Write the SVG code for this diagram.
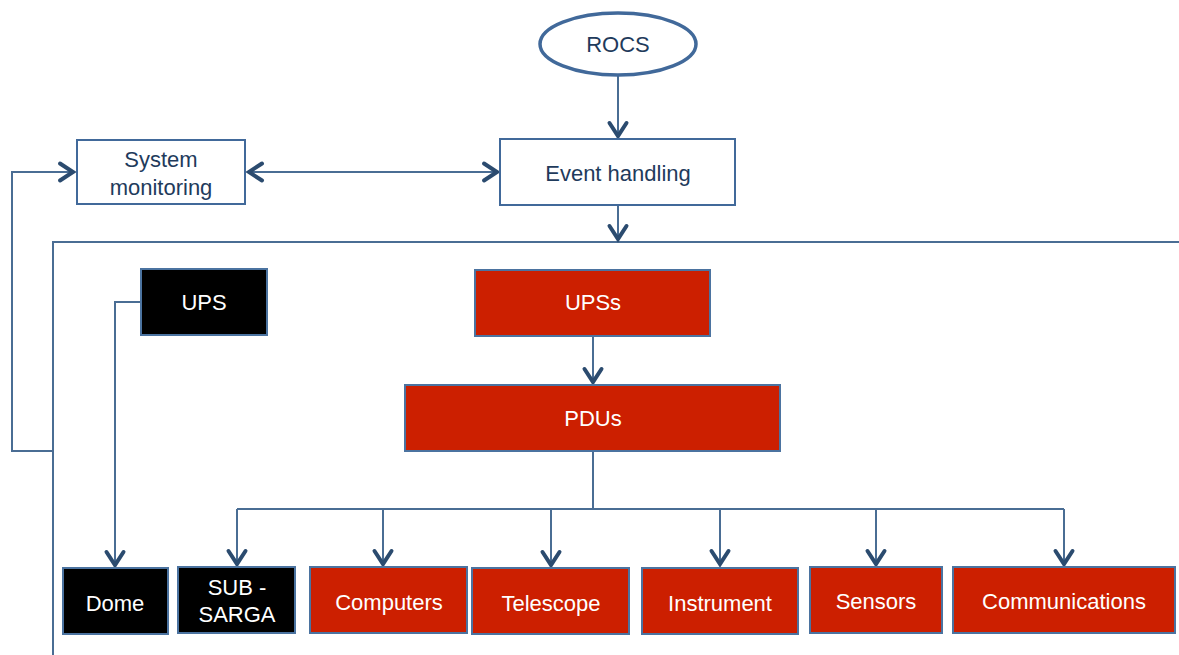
<svg xmlns="http://www.w3.org/2000/svg" width="1179" height="655" viewBox="0 0 1179 655">
  <style>
    .bg { fill: #ffffff; }
    .wire { fill: none; stroke: #4a6d94; stroke-width: 2; }
    .frame { fill: none; stroke: #4a6d94; stroke-width: 2; }
    .box-white { fill: #ffffff; stroke: #41699a; stroke-width: 2; }
    .box-red { fill: #cc1f00; stroke: #4b73a0; stroke-width: 2; }
    .box-black { fill: #000000; stroke: #4b73a0; stroke-width: 2; }
    .oval { fill: #ffffff; stroke: #41699a; stroke-width: 3.5; }
    .dark { font-family: "Liberation Sans", Arial, sans-serif; font-size: 22px; fill: #1f3b5c; text-anchor: middle; }
    .light { font-family: "Liberation Sans", Arial, sans-serif; font-size: 22px; fill: #ffffff; text-anchor: middle; }
  </style>
  <defs>
    <marker id="head" viewBox="-18 -12 22 24" markerWidth="22" markerHeight="24" refX="0" refY="0" orient="auto-start-reverse" markerUnits="userSpaceOnUse">
      <path d="M -15 -8.5 L -2 0 L -15 8.5" fill="none" stroke="#2b4b6f" stroke-width="4" stroke-linecap="round" stroke-linejoin="miter"/>
    </marker>
  </defs>

  <rect class="bg" x="0" y="0" width="1179" height="655"/>

  <!-- connectors -->
  <g id="connectors">
    <!-- power area outline -->
    <path class="frame" d="M 53 655 L 53 242 L 1179 242"/>
    <!-- ROCS to event handling -->
    <line class="wire" x1="618" y1="76" x2="618" y2="138" marker-end="url(#head)"/>
    <!-- event handling into power area -->
    <line class="wire" x1="618" y1="205" x2="618" y2="241" marker-end="url(#head)"/>
    <!-- monitoring <-> event handling -->
    <line class="wire" x1="247" y1="172" x2="499" y2="172" marker-start="url(#head)" marker-end="url(#head)"/>
    <!-- feedback loop from power area to monitoring -->
    <path class="wire" d="M 53 451 L 12 451 L 12 172 L 75 172" marker-end="url(#head)"/>
    <!-- UPS to dome -->
    <path class="wire" d="M 140 302 L 115 302 L 115 567" marker-end="url(#head)"/>
    <!-- UPSs to PDUs -->
    <line class="wire" x1="593" y1="337" x2="593" y2="384" marker-end="url(#head)"/>
    <!-- PDUs distribution bus -->
    <path class="wire" d="M 593 452 L 593 509"/>
    <line class="wire" x1="237" y1="509" x2="1064" y2="509"/>
    <path class="wire" d="M 237 509 L 237 566" marker-end="url(#head)"/>
    <path class="wire" d="M 383 509 L 383 566" marker-end="url(#head)"/>
    <path class="wire" d="M 551 509 L 551 567" marker-end="url(#head)"/>
    <path class="wire" d="M 720 509 L 720 566" marker-end="url(#head)"/>
    <path class="wire" d="M 876 509 L 876 566" marker-end="url(#head)"/>
    <path class="wire" d="M 1064 509 L 1064 566" marker-end="url(#head)"/>
  </g>

  <g id="rocs">
    <ellipse class="oval" cx="618" cy="44" rx="78" ry="31"/>
    <text class="dark" x="618" y="52">ROCS</text>
  </g>

  <g id="event-handling">
    <rect class="box-white" x="500" y="139" width="235" height="66"/>
    <text class="dark" x="618" y="181">Event handling</text>
  </g>

  <g id="system-monitoring">
    <rect class="box-white" x="77" y="140" width="168" height="64"/>
    <text class="dark" x="161" y="167">System</text>
    <text class="dark" x="161" y="195">monitoring</text>
  </g>

  <g id="ups">
    <rect class="box-black" x="141" y="269" width="126" height="66"/>
    <text class="light" x="204" y="310">UPS</text>
  </g>

  <g id="upss">
    <rect class="box-red" x="475" y="270" width="235" height="66"/>
    <text class="light" x="593" y="310">UPSs</text>
  </g>

  <g id="pdus">
    <rect class="box-red" x="405" y="385" width="375" height="66"/>
    <text class="light" x="593" y="426">PDUs</text>
  </g>

  <g id="dome">
    <rect class="box-black" x="63" y="568" width="105" height="66"/>
    <text class="light" x="115" y="611">Dome</text>
  </g>

  <g id="sub-sarga">
    <rect class="box-black" x="178" y="567" width="117" height="66"/>
    <text class="light" x="237" y="595">SUB -</text>
    <text class="light" x="237" y="622">SARGA</text>
  </g>

  <g id="computers">
    <rect class="box-red" x="310" y="567" width="157" height="66"/>
    <text class="light" x="389" y="610">Computers</text>
  </g>

  <g id="telescope">
    <rect class="box-red" x="472" y="568" width="157" height="66"/>
    <text class="light" x="551" y="611">Telescope</text>
  </g>

  <g id="instrument">
    <rect class="box-red" x="642" y="568" width="156" height="66"/>
    <text class="light" x="720" y="611">Instrument</text>
  </g>

  <g id="sensors">
    <rect class="box-red" x="810" y="567" width="132" height="66"/>
    <text class="light" x="876" y="609">Sensors</text>
  </g>

  <g id="communications">
    <rect class="box-red" x="953" y="567" width="222" height="66"/>
    <text class="light" x="1064" y="609">Communications</text>
  </g>
</svg>
